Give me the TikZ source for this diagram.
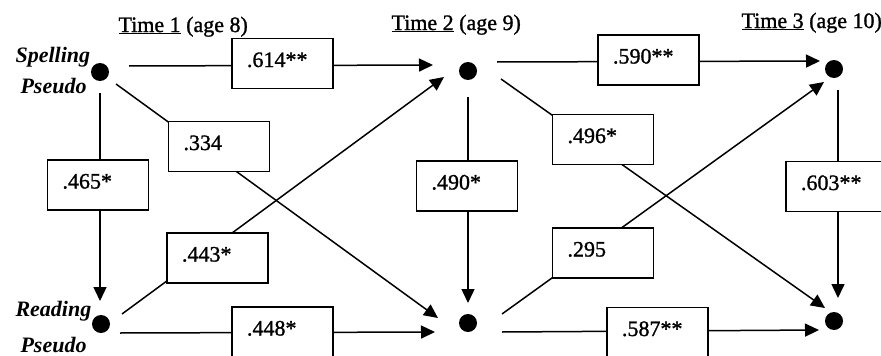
\documentclass[tikz,border=0pt]{standalone}
\usepackage{fontspec}
\setmainfont{Liberation Serif}
\newfontfamily\thickserif[FakeBold=1.2]{Liberation Serif}
\usetikzlibrary{arrows.meta}
\begin{document}
\begin{tikzpicture}[x=1pt,y=-1pt, font=\fontsize{22}{26}\selectfont\thickserif,
  dot/.style={circle,fill=black,inner sep=0pt,minimum size=18pt},
  conn/.style={line width=1.5pt},
  arr/.style={conn,-{Triangle[length=14pt,width=13pt]}},
  valbox/.style={draw,line width=1.5pt,fill=white,minimum height=50pt,text width=71pt,inner xsep=15pt,inner ysep=0pt,align=left,text height=15pt,text depth=8pt},
  lab/.style={anchor=base west,font=\fontsize{22}{26}\selectfont\rmfamily\bfseries\itshape},
  ttl/.style={anchor=base west}]
\clip (0,0) rectangle (881,356);
% titles
\node[ttl] (t1) at (115,32) {\underline{Time 1} (age 8)};
\node[ttl] (t2) at (388,30) {\underline{Time 2} (age 9)};
\node[ttl] (t3) at (738,28) {\underline{Time 3} (age 10)};
% side labels
\node[lab] (ls1) at (12,62) {Spelling};
\node[lab] (ls2) at (17,93) {Pseudo};
\node[lab] (lr1) at (12,316) {Reading};
\node[lab] (lr2) at (17,352) {Pseudo};
% dots
\node[dot] (S1) at (100,72) {};
\node[dot] (S2) at (468,71) {};
\node[dot] (S3) at (834,69) {};
\node[dot] (R1) at (101,324) {};
\node[dot] (R2) at (468,323) {};
\node[dot] (R3) at (834,321) {};
% horizontal
\draw[arr] ([shift={(29,-6)}]S1.center) -- ([shift={(-35,-6)}]S2.center);
\draw[arr] ([shift={(29,-9)}]S2.center) -- ([shift={(-14,-8)}]S3.center);
\draw[arr] ([shift={(19,9)}]R1.center) -- ([shift={(-33,9)}]R2.center);
\draw[arr] ([shift={(34,9)}]R2.center) -- ([shift={(-15,9)}]R3.center);
% vertical
\draw[arr] ([shift={(0,21)}]S1.center) -- ([shift={(-1,-23)}]R1.center);
\draw[arr] ([shift={(0,26)}]S2.center) -- ([shift={(0,-20)}]R2.center);
\draw[arr] ([shift={(4,21)}]S3.center) -- ([shift={(4,-23)}]R3.center);
% diagonal
\draw[arr] ([shift={(16,12)}]S1.center) -- ([shift={(-30,-5)}]R2.center);
\draw[arr] ([shift={(21,-10)}]R1.center) -- ([shift={(-24,6)}]S2.center);
\draw[arr] ([shift={(33,8)}]S2.center) -- ([shift={(-9,-13)}]R3.center);
\draw[arr] ([shift={(34,-9)}]R2.center) -- ([shift={(-10,13)}]S3.center);
% boxes
\node[valbox] (b614) at (282.5,63.5) {.614**};
\node[valbox] (b334) at (219,146.5) {.334};
\node[valbox] (b465) at (98,185) {.465*};
\node[valbox] (b443) at (217.5,258) {.443*};
\node[valbox] (b448) at (282.5,332) {.448*};
\node[valbox] (b490) at (467,186) {.490*};
\node[valbox] (b590) at (648.5,60) {.590**};
\node[valbox] (b496) at (603,139.5) {.496*};
\node[valbox] (b603) at (836.5,186.5) {.603**};
\node[valbox] (b295) at (603,253) {.295};
\node[valbox] (b587) at (657.5,332.5) {.587**};
\end{tikzpicture}
\end{document}
